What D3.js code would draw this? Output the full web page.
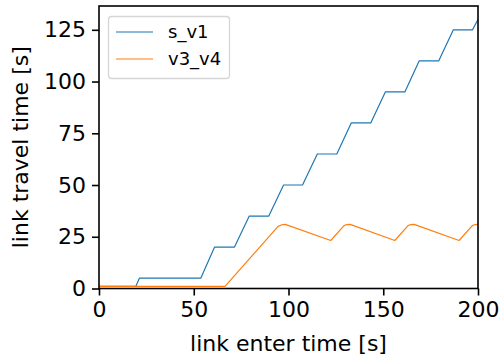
<!DOCTYPE html>
<html>
<head>
<meta charset="utf-8">
<script src="https://cdn.jsdelivr.net/npm/d3@7"></script>
<style>
  html, body { margin: 0; padding: 0; background: #fff; }
  svg { display: block; font-family: "DejaVu Sans", sans-serif; }
</style>
</head>
<body>
<svg id="chart" width="501" height="359"></svg>
<script>
// Link travel time as a function of link enter time
const sv1Enter = [0, 19.4, 21.3, 53.7, 61.0, 71.5, 79.3, 89.6, 97.4, 107.4, 115.2, 125.5, 133.1, 143.4, 151.1, 161.4, 169.0, 179.3, 187.0, 197.1, 200];
const sv1Travel = [1, 1, 5, 5, 20, 20, 35, 35, 50, 50, 65, 65, 80, 80, 95, 95, 110, 110, 125, 125, 130];

const v34Enter = [0, 66.5, 94.5, 96.5, 98.3, 122.3, 129.3, 130.8, 132.5, 156.1, 163.1, 164.6, 166.3, 190.0, 197.0, 198.5, 200];
const v34Travel = [1, 1, 30, 30.8, 31, 23.2, 30.4, 30.9, 31, 23.2, 30.4, 30.9, 31, 23.2, 30.4, 30.9, 31];

const seriesNames = ["s_v1", "v3_v4"];
const seriesColors = ["#1f77b4", "#ff7f0e"];
const xTicks = [0, 50, 100, 150, 200];
const yTicks = [0, 25, 50, 75, 100, 125];

const svg = d3.select("#chart");
const plotL = 99, plotR = 478, plotT = 6, plotB = 288.5;
const fs = 22;

const x = d3.scaleLinear().domain([0, 200]).range([plotL, plotR]);
const y = d3.scaleLinear().domain([0, 136.5]).range([plotB, plotT]);

const series = [
  { name: seriesNames[0], color: seriesColors[0], pts: sv1Enter.map((d, i) => [d, sv1Travel[i]]) },
  { name: seriesNames[1], color: seriesColors[1], pts: v34Enter.map((d, i) => [d, v34Travel[i]]) }
];

const line = d3.line().x(d => x(d[0])).y(d => y(d[1]));

svg.append("clipPath").attr("id", "plotclip")
  .append("rect").attr("x", plotL).attr("y", plotT)
  .attr("width", plotR - plotL).attr("height", plotB - plotT);

svg.append("g").attr("clip-path", "url(#plotclip)")
  .selectAll("path").data(series).join("path")
  .attr("d", d => line(d.pts))
  .attr("fill", "none")
  .attr("stroke", d => d.color)
  .attr("stroke-width", 1.2)
  .attr("stroke-linejoin", "round");

// Axes
const xAxis = svg.append("g").attr("transform", `translate(0,${plotB})`)
  .call(d3.axisBottom(x).tickValues(xTicks).tickSize(7).tickPadding(6).tickSizeOuter(0));
const yAxis = svg.append("g").attr("transform", `translate(${plotL},0)`)
  .call(d3.axisLeft(y).tickValues(yTicks).tickSize(7).tickPadding(6).tickSizeOuter(0));

[xAxis, yAxis].forEach(g => {
  g.select(".domain").remove();
  g.selectAll(".tick line").attr("stroke", "#000").attr("stroke-width", 1.6);
  g.selectAll(".tick text").attr("fill", "#000")
    .attr("font-size", fs).attr("font-family", "DejaVu Sans, sans-serif");
});

// Frame
svg.append("rect").attr("x", plotL).attr("y", plotT)
  .attr("width", plotR - plotL).attr("height", plotB - plotT)
  .attr("fill", "none").attr("stroke", "#000").attr("stroke-width", 1.6);

// Axis titles
svg.append("text").attr("x", (plotL + plotR) / 2).attr("y", 351)
  .attr("text-anchor", "middle").attr("font-size", fs).text("link enter time [s]");
svg.append("text").attr("transform", `translate(28,${(plotT + plotB) / 2}) rotate(-90)`)
  .attr("text-anchor", "middle").attr("font-size", fs).text("link travel time [s]");

// Legend
const lg = svg.append("g");
lg.append("rect").attr("x", 108.5).attr("y", 16.5).attr("width", 121).attr("height", 62)
  .attr("rx", 3).attr("fill", "#fff").attr("fill-opacity", 0.8)
  .attr("stroke", "#d6d6d6").attr("stroke-width", 1.3);
series.forEach((s, i) => {
  const cy = 32 + i * 27;
  lg.append("line").attr("x1", 116).attr("x2", 153).attr("y1", cy).attr("y2", cy)
    .attr("stroke", s.color).attr("stroke-width", 1.2);
  lg.append("text").attr("x", 168).attr("y", cy).attr("dy", "0.35em")
    .attr("font-size", 18).text(s.name);
});
</script>
</body>
</html>
